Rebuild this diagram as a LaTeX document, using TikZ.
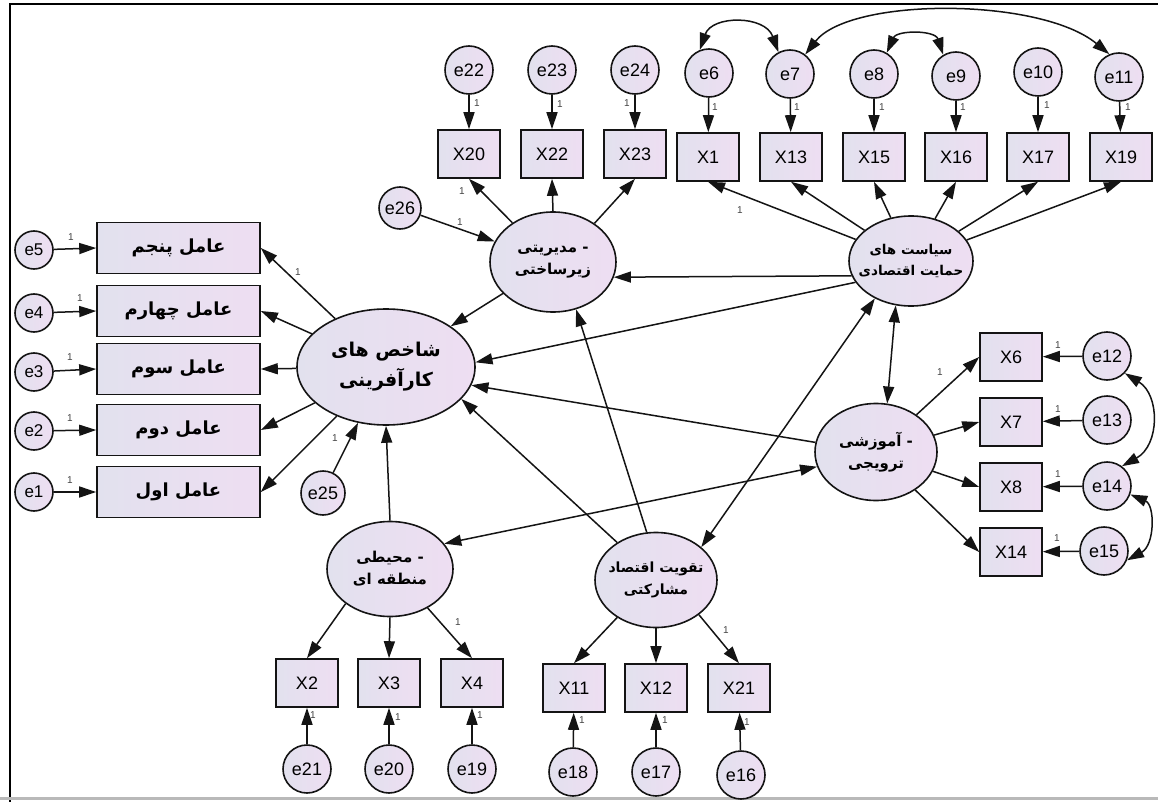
\documentclass[tikz,border=0pt]{standalone}
\usepackage{fontspec}
\setmainfont{Liberation Sans}
\newfontfamily\fa[Script=Arabic]{DejaVu Sans}
\TeXXeTstate=1
\usetikzlibrary{shapes.geometric,arrows.meta,calc}
\definecolor{fillL}{RGB}{226,225,238}
\definecolor{fillR}{RGB}{238,222,242}
\definecolor{ink}{RGB}{20,20,20}
\begin{document}
\begin{tikzpicture}[x=1pt,y=-1pt,
  base/.style={draw=ink, line width=1.6pt, left color=fillL, right color=fillR, inner sep=0pt},
  lat/.style={base, ellipse},
  lattext/.style={inner sep=0pt, font=\fa\bfseries\fontsize{15}{22}\selectfont, align=center},
  obs/.style={base, rectangle, minimum width=62pt, minimum height=48pt, font=\fontsize{18}{18}\selectfont},
  fac/.style={base, rectangle, minimum width=163pt, minimum height=51pt, font=\fa\bfseries\fontsize{18}{18}\selectfont},
  err/.style={base, circle, minimum size=48pt, font=\fontsize{18}{18}\selectfont},
  errs/.style={base, circle, minimum size=38pt, font=\fontsize{17}{17}\selectfont},
  arr/.style={draw=ink, line width=1.5pt, -{Triangle[length=17pt,width=11pt]}},
  darr/.style={draw=ink, line width=1.5pt, {Triangle[length=17pt,width=11pt]}-{Triangle[length=17pt,width=11pt]}},
  one/.style={font=\fontsize{10}{10}\selectfont, inner sep=0pt, text=ink!80}
]
\useasboundingbox (0,0) rectangle (1158,802);
\fill[white] (0,0) rectangle (1158,802);
\draw[line width=2pt] (10,802) -- (10,4) -- (1158,4);
\draw[line width=3pt, gray!55] (0,798) -- (1158,798);

% latent variables
\node[lat, minimum width=178pt, minimum height=116pt] (main) at (386,367) {};
\node[lat, minimum width=126pt, minimum height=100pt] (modir) at (553,262) {};
\node[lat, minimum width=124pt, minimum height=90pt] (siasat) at (911,261) {};
\node[lat, minimum width=122pt, minimum height=97pt] (amoo) at (876,452) {};
\node[lat, minimum width=126pt, minimum height=95pt] (mohit) at (390,569) {};
\node[lat, minimum width=122pt, minimum height=95pt] (taqv) at (656,580) {};
\node[lattext, font=\fa\bfseries\fontsize{19}{30}\selectfont] (main-t) at (main) {\beginR شاخص های\endR\\\beginR کارآفرینی\endR};
\node[lattext] (modir-t) at (modir) {\beginR - مدیریتی\endR\\\beginR زیرساختی\endR};
\node[lattext, font=\fa\bfseries\fontsize{13.5}{21}\selectfont] (siasat-t) at (siasat) {\beginR سیاست های\endR\\\beginR حمایت اقتصادی\endR};
\node[lattext] (amoo-t) at (amoo) {\beginR - آموزشی\endR\\\beginR ترویجی\endR};
\node[lattext] (mohit-t) at (mohit) {\beginR - محیطی\endR\\\beginR منطقه ای\endR};
\node[lattext, font=\fa\bfseries\fontsize{14}{22}\selectfont] (taqv-t) at (taqv) {\beginR تقویت اقتصاد\endR\\\beginR مشارکتی\endR};

% factor boxes
\node[fac] (F5) at (178.5,248) {\beginR عامل پنجم\endR};
\node[fac] (F4) at (178.5,311) {\beginR عامل چهارم\endR};
\node[fac] (F3) at (178.5,369) {\beginR عامل سوم\endR};
\node[fac] (F2) at (178.5,430) {\beginR عامل دوم\endR};
\node[fac] (F1) at (178.5,492) {\beginR عامل اول\endR};
\node[errs] (e5) at (34,250) {e5};
\node[errs] (e4) at (34,313) {e4};
\node[errs] (e3) at (34,372) {e3};
\node[errs] (e2) at (34,431) {e2};
\node[errs] (e1) at (34,492) {e1};

% top row
\node[err] (e22) at (469,70) {e22};
\node[err] (e23) at (552,70) {e23};
\node[err] (e24) at (635,70) {e24};
\node[err] (e6) at (709,73) {e6};
\node[err] (e7) at (790,74) {e7};
\node[err] (e8) at (874,74) {e8};
\node[err] (e9) at (956,76) {e9};
\node[err] (e10) at (1038,72) {e10};
\node[err] (e11) at (1119,77) {e11};
\node[obs] (X20) at (469,154) {X20};
\node[obs] (X22) at (552,154) {X22};
\node[obs] (X23) at (635,154) {X23};
\node[obs] (X1) at (708,157) {X1};
\node[obs] (X13) at (791,157) {X13};
\node[obs] (X15) at (874,157) {X15};
\node[obs] (X16) at (956,157) {X16};
\node[obs] (X17) at (1038,157) {X17};
\node[obs] (X19) at (1121,157) {X19};

% right column
\node[obs] (X6) at (1011,357) {X6};
\node[obs] (X7) at (1011,422) {X7};
\node[obs] (X8) at (1011,487) {X8};
\node[obs] (X14) at (1011,552) {X14};
\node[err] (e12) at (1107,356) {e12};
\node[err] (e13) at (1107,420) {e13};
\node[err] (e14) at (1107,486) {e14};
\node[err] (e15) at (1104,551) {e15};

% bottom row
\node[obs] (X2) at (307,683) {X2};
\node[obs] (X3) at (389,683) {X3};
\node[obs] (X4) at (472,683) {X4};
\node[obs] (X11) at (574,688) {X11};
\node[obs] (X12) at (656,688) {X12};
\node[obs] (X21) at (739,688) {X21};
\node[err] (e21) at (307,769) {e21};
\node[err] (e20) at (389,769) {e20};
\node[err] (e19) at (472,769) {e19};
\node[err] (e18) at (573,772) {e18};
\node[err] (e17) at (656,772) {e17};
\node[err] (e16) at (741,775) {e16};

% other errors
\node[err, minimum size=44pt] (e25) at (323,493) {e25};
\node[err, minimum size=42pt] (e26) at (400,208) {e26};

% paths: factors
\foreach \i in {1,...,5} {
  \draw[arr] (e\i) -- (F\i.west);
  \draw[arr] (main) -- (F\i.east);
}
\draw[arr] (e25) -- (main);
\draw[arr] (modir) -- (main);
\draw[arr] (e26) -- (modir);
\draw[arr] (modir.136) -- (X20.south);
\draw[arr] (modir.north) -- (X22.south);
\draw[arr] (modir.43) -- (X23.south);
\draw[arr] (siasat.-166) -- (modir.-14);
\draw[arr] (siasat.201) -- (main.3);
\foreach \x in {X1,X13,X15,X16,X17,X19} { \draw[arr] (siasat) -- (\x.south); }
\draw[arr] (amoo.171) -- (main.-12);
\foreach \x in {X6,X7,X8,X14} { \draw[arr] (amoo) -- (\x.west); }
\draw[arr] (taqv.101) -- (modir.-64);
\draw[arr] (taqv.136) -- (main.-23);
\draw[arr] (taqv.224) -- (X11.north);
\draw[arr] (taqv.south) -- (X12.north);
\draw[arr] (taqv.-39) -- (X21.north);
\draw[arr] (mohit.north) -- (main.south);
\draw[arr] (mohit.218) -- (X2.north);
\draw[arr] (mohit.south) -- (X3.north);
\draw[arr] (mohit.-46) -- (X4.north);
\draw[darr] (siasat.226) -- (taqv.36);
\draw[darr] (siasat.251) -- (amoo.77);
\draw[darr] (amoo.194) -- (mohit.25);

% error paths
\foreach \e/\x in {e22/X20,e23/X22,e24/X23,e6/X1,e7/X13,e8/X15,e9/X16,e10/X17,e11/X19} { \draw[arr] (\e) -- (\x); }
\foreach \e/\x in {e12/X6,e13/X7,e14/X8,e15/X14} { \draw[arr] (\e) -- (\x); }
\foreach \e/\x in {e21/X2,e20/X3,e19/X4,e18/X11,e17/X12,e16/X21} { \draw[arr] (\e) -- (\x); }

% covariances
\draw[darr] (e6.112) .. controls (712,15) and (765,15) .. (e7.118);
\draw[darr] (e8.59) .. controls (897,30) and (935,30) .. (e9.121);
\draw[darr] (e7.52) .. controls (850,-3) and (1040,-3) .. (e11.113);
\draw[darr] (e12.-44) .. controls (1160,395) and (1160,445) .. (e14.53);
\draw[darr] (e14.-20) .. controls (1155,505) and (1155,545) .. (e15.-22);

% loading labels
\node[one] (l1) at (71,237) {1};
\node[one] (l2) at (80,298) {1};
\node[one] (l3) at (70,357) {1};
\node[one] (l4) at (70,418) {1};
\node[one] (l5) at (70,480) {1};
\node[one] (l6) at (298,272) {1};
\node[one] (l7) at (335,438) {1};
\node[one] (l8) at (460,222) {1};
\node[one] (l9) at (462,191) {1};
\node[one] (l10) at (740,210) {1};
\node[one] (l11) at (940,372) {1};
\node[one] (l12) at (458,622) {1};
\node[one] (l13) at (726,630) {1};
\node[one] (t1) at (477,103) {1};
\node[one] (t2) at (560,104) {1};
\node[one] (t3) at (627,103) {1};
\node[one] (t4) at (715,107) {1};
\node[one] (t5) at (797,107) {1};
\node[one] (t6) at (882,107) {1};
\node[one] (t7) at (963,107) {1};
\node[one] (t8) at (1047,105) {1};
\node[one] (t9) at (1128,107) {1};
\node[one] (r1) at (1058,345) {1};
\node[one] (r2) at (1058,409) {1};
\node[one] (r3) at (1058,474) {1};
\node[one] (r4) at (1057,538) {1};
\node[one] (b1) at (313,715) {1};
\node[one] (b2) at (398,717) {1};
\node[one] (b3) at (480,715) {1};
\node[one] (b4) at (582,720) {1};
\node[one] (b5) at (665,720) {1};
\node[one] (b6) at (747,722) {1};
\end{tikzpicture}
\end{document}
